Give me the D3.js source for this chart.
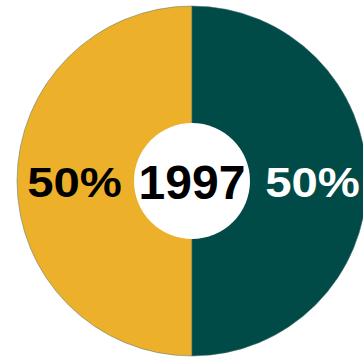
<!DOCTYPE html>
<html>
<head>
<meta charset="utf-8">
<script src="https://cdn.jsdelivr.net/npm/d3@7"></script>
<style>
  body { margin: 0; background: #fff; }
  svg { display: block; }
  text { font-family: "Liberation Sans", Arial, sans-serif; font-weight: bold; }
</style>
</head>
<body>
<div id="chart"></div>
<script>
const width = 363, height = 358;

// data
const year = "1997";
const categories = ["A", "B"];
const values = [50, 50];
const colors = ["#edb02a", "#004b47"];
const labelColors = ["#000", "#fff"];

const cx = 192, cy = 181,
  outerR = 175,
  innerR = 58;

var svg = d3.select("#chart").append("svg")
  .attr("width", width)
  .attr("height", height);

var g = svg.append("g")
  .attr("transform", "translate(" + cx + "," + cy + ")");

var data = categories.map((c, i) => ({ name: c, value: values[i], color: colors[i], label: labelColors[i] }));

// right slice (B) starts at 12 o'clock going clockwise
var pie = d3.pie()
  .value(d => d.value)
  .sort(null)
  .startAngle(Math.PI)
  .endAngle(3 * Math.PI);

var arc = d3.arc().innerRadius(0).outerRadius(outerR);
var labelArc = d3.arc().innerRadius(119).outerRadius(119);

var slices = g.selectAll("g.slice")
  .data(pie(data))
  .enter().append("g")
  .attr("class", "slice");

slices.append("path")
  .attr("d", arc)
  .attr("fill", d => d.data.color)
  .attr("stroke", "#4f7470")
  .attr("stroke-width", 0.5);

// white hole
g.append("circle")
  .attr("r", innerR)
  .attr("fill", "#fff");

slices.append("text")
  .attr("transform", d => {
    var c = labelArc.centroid(d);
    return "translate(" + (c[0] + 1.5) + "," + (c[1] + 0.5) + ") scale(1.1,1)";
  })
  .attr("text-anchor", "middle")
  .attr("dy", "0.35em")
  .style("font-size", "43px")
  .attr("fill", d => d.data.label)
  .text(d => d.data.value + "%");

g.append("text")
  .attr("text-anchor", "middle")
  .attr("dy", "0.37em")
  .style("font-size", "48px")
  .attr("fill", "#000")
  .text(year);
</script>
</body>
</html>
